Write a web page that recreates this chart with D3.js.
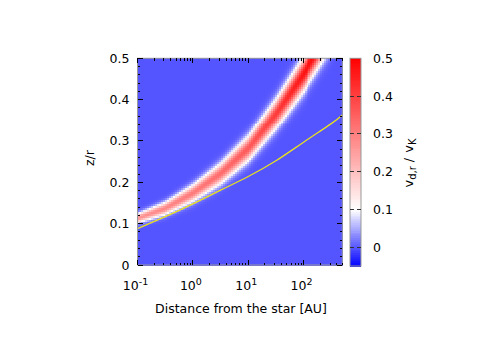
<!DOCTYPE html>
<html>
<head>
<meta charset="utf-8">
<script src="https://d3js.org/d3.v7.min.js"></script>
<style>
  body { margin: 0; background: #fff; }
  text { font-family: "DejaVu Sans", "Liberation Sans", Arial, sans-serif; fill: #000; }
</style>
</head>
<body>
<div id="chart"></div>
<script>
// ridge of v_{d,r}/v_K, at log10(r) samples
var logR       = [-1, -0.5, 0, 0.5, 1, 1.5, 2, 2.5, 2.7];
var ridgeZ     = [0.114, 0.138, 0.175, 0.222, 0.283, 0.368, 0.465, 0.575, 0.625];
var ridgeAmp   = [0.27, 0.29, 0.31, 0.33, 0.36, 0.41, 0.47, 0.50, 0.50];
var ridgeWidth = [0.0075, 0.010, 0.013, 0.016, 0.019, 0.022, 0.025, 0.028, 0.029];
// yellow curve
var yellowZ    = [0.088, 0.117, 0.148, 0.181, 0.214, 0.252, 0.297, 0.342, 0.363];

var yTicks  = [0, 0.1, 0.2, 0.3, 0.4, 0.5];
var xTicks  = [0.1, 1, 10, 100];
var xExp    = ["-1", "0", "1", "2"];
var cbTicks = [0, 0.1, 0.2, 0.3, 0.4, 0.5];

var width = 483, height = 338;
var x0 = 137.5, x1 = 342.3, y0 = 58.3, y1 = 265;

var svg = d3.select('#chart').append('svg').attr('width', width).attr('height', height);

var x = d3.scaleLog().domain([0.1, 500]).range([x0, x1]);
var y = d3.scaleLinear().domain([0, 0.5]).range([y1, y0]);
var color = d3.scaleLinear().domain([-0.05, 0.1, 0.5]).range(['#0000ff', '#ffffff', '#ff0000']).clamp(true);

// profile of the ridge along log r
var cZ = d3.scaleLinear().domain(logR).range(ridgeZ);
var cA = d3.scaleLinear().domain(logR).range(ridgeAmp);
var cW = d3.scaleLinear().domain(logR).range(ridgeWidth);

// heatmap cells
var nx = 103, nz = 104;
var lx = d3.scaleLinear().domain([0, nx]).range([Math.log10(0.1), Math.log10(500)]);
var lz = d3.scaleLinear().domain([0, nz]).range([0, 0.5]);
var cells = [];
for (var i = 0; i < nx; i++) {
  for (var j = 0; j < nz; j++) {
    var lr = lx(i + 0.5), z = lz(j + 0.5);
    var d = (z - cZ(lr)) / cW(lr);
    cells.push({i: i, j: j, v: cA(lr) * Math.exp(-0.5 * d * d)});
  }
}
svg.append('g').attr('shape-rendering', 'crispEdges')
  .selectAll('rect').data(cells).enter().append('rect')
  .attr('x', function(d) { return x(Math.pow(10, lx(d.i))); })
  .attr('width', function(d) { return x(Math.pow(10, lx(d.i + 1))) - x(Math.pow(10, lx(d.i))) + 0.6; })
  .attr('y', function(d) { return y(lz(d.j + 1)); })
  .attr('height', function(d) { return y(lz(d.j)) - y(lz(d.j + 1)) + 0.6; })
  .attr('fill', function(d) { return color(d.v); });

// yellow line
var line = d3.line()
  .x(function(d, k) { return x(Math.pow(10, logR[k])); })
  .y(function(d) { return y(d); })
  .curve(d3.curveNatural);
svg.append('path').datum(yellowZ)
  .attr('d', line)
  .attr('fill', 'none')
  .attr('stroke', '#e8e020')
  .attr('stroke-width', 1.3);

// frame
svg.append('rect').attr('x', x0).attr('y', y0).attr('width', x1 - x0).attr('height', y1 - y0)
  .attr('fill', 'none').attr('stroke', '#999').attr('stroke-width', 1);

// ticks
var yMinor = d3.range(0, 0.5001, 0.02);
function tickLines(g, vals, len, side) {
  g.append('g').selectAll('line').data(vals).enter().append('line')
    .attr('stroke', '#000').attr('stroke-width', 1)
    .attr('x1', function(d) { return side === 'l' ? x0 : side === 'r' ? x1 : x(d); })
    .attr('x2', function(d) { return side === 'l' ? x0 + len : side === 'r' ? x1 - len : x(d); })
    .attr('y1', function(d) { return side === 'b' ? y1 : side === 't' ? y0 : y(d); })
    .attr('y2', function(d) { return side === 'b' ? y1 - len : side === 't' ? y0 + len : y(d); });
}
var tg = svg.append('g').attr('shape-rendering', 'crispEdges');
tickLines(tg, yMinor, 2.5, 'l');
tickLines(tg, yMinor, 2.5, 'r');
tickLines(tg, yTicks, 5, 'l');
tickLines(tg, yTicks, 5, 'r');
var xMinor = [];
[0.1, 1, 10, 100].forEach(function(b) { for (var m = 2; m <= 9; m++) if (b * m <= 500) xMinor.push(b * m); });
tickLines(tg, xMinor, 2.5, 'b');
tickLines(tg, xMinor, 2.5, 't');
tickLines(tg, xTicks, 5, 'b');
tickLines(tg, xTicks, 5, 't');

// y labels
svg.append('g').selectAll('text').data(yTicks).enter().append('text')
  .attr('x', 129.5).attr('y', function(d) { return y(d); }).attr('dy', '0.36em')
  .attr('text-anchor', 'end').attr('font-size', 12.5)
  .text(function(d) { return d === 0 ? '0' : d3.format('.1f')(d); });

// x labels
var xl = svg.append('g').selectAll('text').data(xTicks).enter().append('text')
  .attr('x', function(d) { return x(d) - 2; }).attr('y', 290)
  .attr('text-anchor', 'middle').attr('font-size', 12.5);
xl.append('tspan').text('10');
xl.append('tspan').attr('dy', -5).attr('font-size', 9.5).text(function(d, k) { return xExp[k]; });

svg.append('text').attr('x', 241).attr('y', 313).attr('text-anchor', 'middle').attr('font-size', 12.5)
  .text('Distance from the star [AU]');
svg.append('text').attr('transform', 'translate(94,158) rotate(-90)').attr('text-anchor', 'middle')
  .attr('font-size', 12.5).text('z/r');

// colorbar
var cb0 = 350, cb1 = 361;
var cy = d3.scaleLinear().domain([-0.05, 0.5]).range([y1 + 1, y0]);
var cbSteps = d3.range(0, 110);
var cs = d3.scaleLinear().domain([0, 110]).range([-0.05, 0.5]);
svg.append('g').attr('shape-rendering', 'crispEdges').selectAll('rect').data(cbSteps).enter().append('rect')
  .attr('x', cb0).attr('width', cb1 - cb0)
  .attr('y', function(d) { return cy(cs(d + 1)); })
  .attr('height', function(d) { return cy(cs(d)) - cy(cs(d + 1)) + 0.5; })
  .attr('fill', function(d) { return color(cs(d + 0.5)); });
svg.append('rect').attr('x', cb0).attr('y', y0).attr('width', cb1 - cb0).attr('height', y1 + 1 - y0)
  .attr('fill', 'none').attr('stroke', '#999');
var cbt = svg.append('g').attr('shape-rendering', 'crispEdges');
cbt.append('g').selectAll('line').data(cbTicks.slice(0, 5)).enter().append('line')
  .attr('x1', cb0).attr('x2', cb0 + 4).attr('y1', function(d) { return cy(d); }).attr('y2', function(d) { return cy(d); })
  .attr('stroke', '#333');
cbt.append('g').selectAll('line').data(cbTicks.slice(0, 5)).enter().append('line')
  .attr('x1', cb1 - 4).attr('x2', cb1).attr('y1', function(d) { return cy(d); }).attr('y2', function(d) { return cy(d); })
  .attr('stroke', '#333');
svg.append('g').selectAll('text').data(cbTicks).enter().append('text')
  .attr('x', 373).attr('y', function(d) { return cy(d); }).attr('dy', '0.36em').attr('font-size', 12.5)
  .text(function(d) { return d === 0 ? '0' : d3.format('.1f')(d); });

var ct = svg.append('text').attr('transform', 'translate(413,163) rotate(-90)').attr('text-anchor', 'middle')
  .attr('font-size', 13);
ct.append('tspan').text('v');
ct.append('tspan').attr('dy', 3).attr('font-size', 10).text('d,r');
ct.append('tspan').attr('dy', -3).attr('dx', 4).text('/');
ct.append('tspan').attr('dx', 5).text('v');
ct.append('tspan').attr('dy', 3).attr('font-size', 10).text('K');
</script>
</body>
</html>
